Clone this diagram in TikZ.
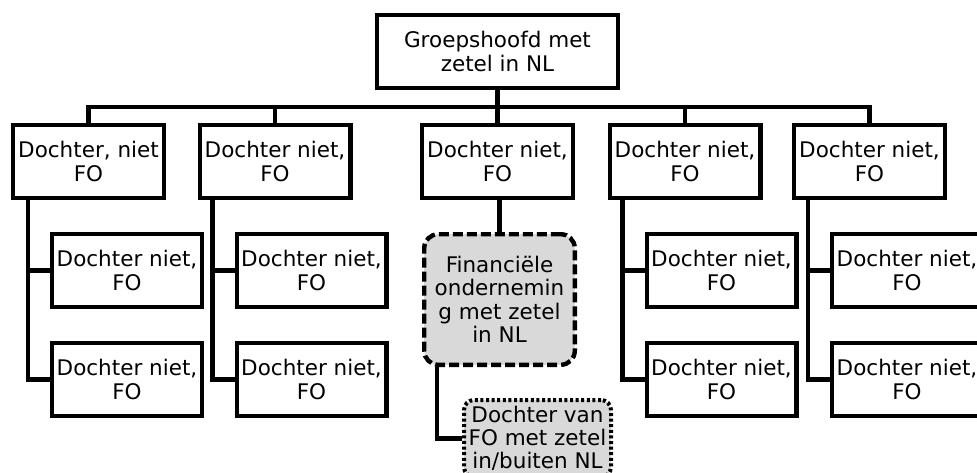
\documentclass[tikz,border=0pt]{standalone}
\usepackage{fontspec}
\setmainfont{DejaVu Sans}
\usepackage{tikz}
\usetikzlibrary{positioning}
\usepackage{xcolor}
\colorlet{fogray}{black!15}
\tikzstyle{box}=[draw=black,line width=4.4pt,fill=white,align=center,minimum width=150.6pt,minimum height=72.6pt,inner sep=1pt,font=\fontsize{21.5}{23.5}\selectfont]
\tikzstyle{sub}=[box,minimum width=149.6pt,minimum height=72.6pt]
\tikzstyle{fin}=[box,fill=fogray,rounded corners=14pt,dash pattern=on 10pt off 4pt,minimum height=130.6pt]
\tikzstyle{fosub}=[box,fill=fogray,rounded corners=10pt,dash pattern=on 3pt off 2.6pt,line width=4pt,minimum width=147pt,minimum height=77pt,font=\fontsize{21.5}{23}\selectfont]
\tikzstyle{link}=[line width=4.2pt]

\begin{document}
\begin{tikzpicture}[x=1pt,y=-1pt]

	\useasboundingbox (0,0) rectangle (977,472);

	\node[box, minimum width=240.6pt] (top) at (497.5,51.5) {Groepshoofd met\\zetel in NL};

	\node[box] (d1) at (88.5,161.5) {Dochter, niet\\FO};
	\node[box] (d2) at (275,161.5) {Dochter niet,\\FO};
	\node[box] (d3) at (497.5,161.5) {Dochter niet,\\FO};
	\node[box] (d4) at (685,161.5) {Dochter niet,\\FO};
	\node[box] (d5) at (869.5,161.5) {Dochter niet,\\FO};

	\coordinate[below=17pt of top] (bus);
	\draw[link] (top.south) -- (bus);
	\draw[link] (d1.north) |- (bus) -| (d5.north);
	\draw[link] (d2.north) -- (d2.north |- bus);
	\draw[link] (d3.north) -- (d3.north |- bus);
	\draw[link] (d4.north) -- (d4.north |- bus);

	\node[sub, anchor=north west] (c11) at ([shift={(39pt,-32pt)}]d1.south west) {Dochter niet,\\FO};
	\node[sub, below=32pt of c11] (c12) {Dochter niet,\\FO};
	\node[sub, anchor=north west] (c21) at ([shift={(37pt,-32pt)}]d2.south west) {Dochter niet,\\FO};
	\node[sub, below=32pt of c21] (c22) {Dochter niet,\\FO};
	\node[sub, anchor=north west] (c41) at ([shift={(37pt,-32pt)}]d4.south west) {Dochter niet,\\FO};
	\node[sub, below=32pt of c41] (c42) {Dochter niet,\\FO};
	\node[sub, anchor=north west] (c51) at ([shift={(38pt,-32pt)}]d5.south west) {Dochter niet,\\FO};
	\node[sub, below=32pt of c51] (c52) {Dochter niet,\\FO};

	\coordinate (t1) at ([xshift=17pt]d1.south west);
	\coordinate (t2) at ([xshift=15pt]d2.south west);
	\coordinate (t4) at ([xshift=15pt]d4.south west);
	\coordinate (t5) at ([xshift=16pt]d5.south west);

	\draw[link] (t1) |- (c12.west);
	\draw[link] (c11.west) -- (c11.west -| t1);
	\draw[link] (t2) |- (c22.west);
	\draw[link] (c21.west) -- (c21.west -| t2);
	\draw[link] (t4) |- (c42.west);
	\draw[link] (c41.west) -- (c41.west -| t4);
	\draw[link] (t5) |- (c52.west);
	\draw[link] (c51.west) -- (c51.west -| t5);

	% financiele onderneming en dochter
	\node[fin, below=32pt of d3, xshift=2pt] (fo) {Financiële\\ondernemin\\g met zetel\\in NL};
	\draw[link] (d3.south -| fo.north) -- (fo.north);

	\node[fosub, anchor=north west] (dfo) at ([shift={(40pt,-31pt)}]fo.south west) {Dochter van\\FO met zetel\\in/buiten NL};
	\coordinate (tf) at ([xshift=15pt]fo.south west);
	\draw[link] (tf) |- (dfo.west);

\end{tikzpicture}
\end{document}
